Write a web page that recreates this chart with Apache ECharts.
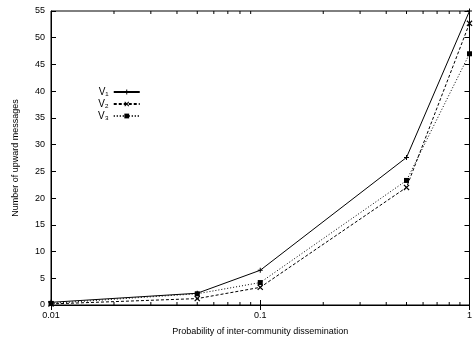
<!DOCTYPE html>
<html>
<head>
<meta charset="utf-8">
<script src="https://cdn.jsdelivr.net/npm/echarts@6/dist/echarts.min.js"></script>
<style>
  html, body { margin: 0; padding: 0; background: #fff; }
  #chart { width: 475px; height: 341px; }
</style>
</head>
<body>
<div id="chart"></div>
<script>
// Probability of inter-community dissemination (x, log scale)
const probabilities = [0.01, 0.05, 0.1, 0.5, 1];
// Number of upward messages per variant
const v1Values = [0.5, 2.2, 6.5, 27.6, 55];
const v2Values = [0.2, 1.2, 3.3, 22.0, 52.7];
const v3Values = [0.3, 2.1, 4.2, 23.3, 47.0];
const seriesNames = ['V\u2081', 'V\u2082', 'V\u2083'];
// Minor ticks of the log axis
const minorTickValues = [0.02, 0.03, 0.04, 0.05, 0.06, 0.07, 0.08, 0.09,
                         0.2, 0.3, 0.4, 0.5, 0.6, 0.7, 0.8, 0.9];

const FONT = 'Liberation Sans, Arial, Helvetica, sans-serif';
const PLUS = 'path://M4,0H6V4H10V6H6V10H4V6H0V4H4Z';
const CROSS = 'path://M1.4,0L5,3.6L8.6,0L10,1.4L6.4,5L10,8.6L8.6,10L5,6.4L1.4,10L0,8.6L3.6,5L0,1.4Z';
const SQUARE = 'path://M0,0H10V10H0Z';

function pairs(vals) {
  return probabilities.map((p, i) => [p, vals[i]]);
}

const chart = echarts.init(document.getElementById('chart'), null, { renderer: 'canvas' });

const lineSeries = (name, vals, dash, symbol, size) => ({
  name: name,
  type: 'line',
  data: pairs(vals),
  symbol: symbol,
  symbolSize: size,
  showSymbol: true,
  clip: false,
  lineStyle: { color: '#000', width: 1, type: dash },
  itemStyle: { color: '#000', borderWidth: 0 },
  emphasis: { disabled: true },
  animation: false,
  z: 3
});

chart.setOption({
  animation: false,
  backgroundColor: '#fff',
  textStyle: { fontFamily: FONT },
  grid: {
    left: 51, right: 2, top: 11, bottom: 34,
    show: true, borderColor: '#000', borderWidth: 1
  },
  legend: {
    orient: 'vertical',
    left: 98,
    top: 86,
    padding: 0,
    align: 'right',
    itemWidth: 26,
    itemHeight: 6,
    itemGap: 0,
    selectedMode: false,
    data: seriesNames,
    textStyle: {
      color: '#000',
      fontFamily: FONT,
      fontSize: 10,
      lineHeight: 12,
      padding: [0, 0, 0, 0]
    }
  },
  xAxis: [{
    type: 'log',
    logBase: 10,
    min: 0.01,
    max: 1,
    name: 'Probability of inter-community dissemination',
    nameLocation: 'middle',
    nameGap: 22,
    nameTextStyle: { color: '#000', fontSize: 9, fontFamily: FONT },
    axisLine: { show: true, lineStyle: { color: '#000', width: 1 } },
    axisTick: { show: true, inside: true, length: 5, lineStyle: { color: '#000' } },
    axisLabel: { color: '#000', fontSize: 9, fontFamily: FONT, margin: 6 },
    splitLine: { show: false }
  }, {
    type: 'log',
    logBase: 10,
    min: 0.01,
    max: 1,
    position: 'top',
    axisLine: { show: true, lineStyle: { color: '#000', width: 1 } },
    axisTick: { show: true, inside: true, length: 5, lineStyle: { color: '#000' } },
    axisLabel: { show: false },
    splitLine: { show: false }
  }],
  yAxis: [{
    type: 'value',
    min: 0,
    max: 55,
    interval: 5,
    name: 'Number of upward messages',
    nameLocation: 'middle',
    nameGap: 31,
    nameRotate: 90,
    nameTextStyle: { color: '#000', fontSize: 9, fontFamily: FONT },
    axisLine: { show: true, lineStyle: { color: '#000', width: 1 } },
    axisTick: { show: true, inside: true, length: 5, lineStyle: { color: '#000' } },
    axisLabel: { color: '#000', fontSize: 9, fontFamily: FONT, margin: 6 },
    splitLine: { show: false }
  }, {
    type: 'value',
    min: 0,
    max: 55,
    interval: 5,
    position: 'right',
    axisLine: { show: true, lineStyle: { color: '#000', width: 1 } },
    axisTick: { show: true, inside: true, length: 5, lineStyle: { color: '#000' } },
    axisLabel: { show: false },
    splitLine: { show: false }
  }],
  series: [
    lineSeries(seriesNames[0], v1Values, 'solid', PLUS, 5),
    lineSeries(seriesNames[1], v2Values, [3, 2], CROSS, 6),
    lineSeries(seriesNames[2], v3Values, [1, 2], SQUARE, 5),
    {
      name: 'minorTicks',
      type: 'custom',
      silent: true,
      animation: false,
      data: minorTickValues.map(v => [v]),
      renderItem: function (params, api) {
        const x = api.value(0);
        const bottom = api.coord([x, 0]);
        const top = api.coord([x, 55]);
        const style = { stroke: '#000', lineWidth: 1 };
        return {
          type: 'group',
          children: [
            { type: 'line', shape: { x1: bottom[0], y1: bottom[1], x2: bottom[0], y2: bottom[1] - 3 }, style: style },
            { type: 'line', shape: { x1: top[0], y1: top[1], x2: top[0], y2: top[1] + 3 }, style: style }
          ]
        };
      },
      z: 2
    }
  ]
});
</script>
</body>
</html>
